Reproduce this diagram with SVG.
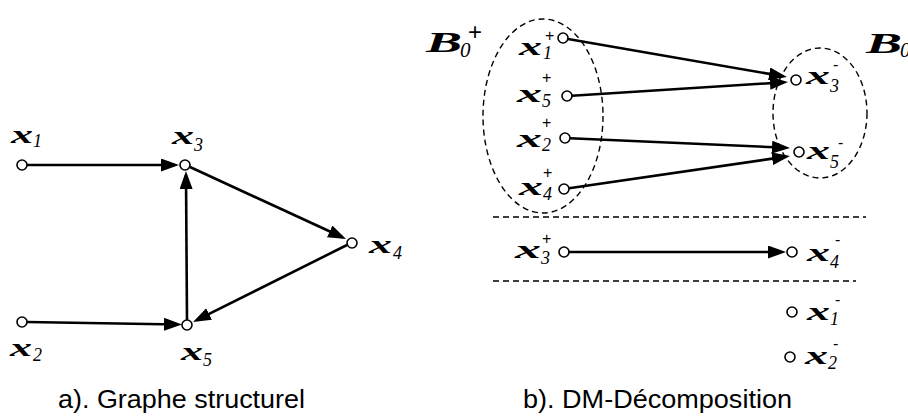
<svg xmlns="http://www.w3.org/2000/svg" width="908" height="417" viewBox="0 0 908 417">
<style>
.n{fill:#fff;stroke:#000;stroke-width:1.6}
.e{stroke:#000;stroke-width:2.6;fill:none;marker-end:url(#ah)}
.d{stroke:#000;stroke-width:1.4;fill:none;stroke-dasharray:6,4}
.m{font-family:"Liberation Serif","DejaVu Serif",serif;font-weight:bold;font-style:italic;font-size:26px;fill:#000}
.s{font-family:"Liberation Serif","DejaVu Serif",serif;font-style:italic;font-size:18px;fill:#000}
.p{font-family:"Liberation Sans",Arial,sans-serif;font-size:16px;fill:#000}
.B{font-family:"Liberation Serif","DejaVu Serif",serif;font-weight:bold;font-style:italic;font-size:30px;fill:#000}
.c{font-family:"Liberation Sans",Arial,sans-serif;font-size:25px;fill:#000}
</style>
<defs>
<marker id="ah" markerUnits="userSpaceOnUse" markerWidth="19" markerHeight="13" viewBox="0 0 19 13" refX="14" refY="6.5" orient="auto">
<path d="M0,0 L18,6.5 L0,13 z" fill="#000"/>
</marker>
</defs>
<rect width="908" height="417" fill="#fff"/>
<g id="connectors">
<line class="e" x1="27" y1="165" x2="175" y2="165"/>
<line class="e" x1="190" y1="167" x2="342.4" y2="237.3"/>
<line class="e" x1="347" y1="245" x2="196.6" y2="320.2"/>
<line class="e" x1="187" y1="320" x2="186" y2="175"/>
<line class="e" x1="27" y1="322" x2="178" y2="324.5"/>
<line class="e" x1="568" y1="39" x2="783" y2="76.3"/>
<line class="e" x1="572" y1="95.7" x2="784" y2="82.3"/>
<line class="e" x1="570" y1="138.2" x2="786" y2="147.8"/>
<line class="e" x1="569" y1="188.3" x2="786" y2="156.6"/>
<line class="e" x1="569" y1="252" x2="782" y2="252"/>
</g>
<g id="groups">
<ellipse class="d" cx="543" cy="116" rx="60" ry="97"/>
<ellipse class="d" cx="820" cy="113" rx="47" ry="65"/>
<line class="d" x1="493" y1="217" x2="866" y2="217"/>
<line class="d" x1="493" y1="281" x2="856" y2="281"/>
<text class="B" x="426" y="52" textLength="36" lengthAdjust="spacingAndGlyphs">B</text><text class="s" x="460" y="57" style="font-size:21px">0</text><text class="p" x="468" y="40" style="font-size:24px">+</text>
<text class="B" x="866" y="53" textLength="36" lengthAdjust="spacingAndGlyphs">B</text><text class="s" x="900" y="57" style="font-size:21px">0</text>
</g>
<g id="n-x1"><circle class="n" cx="22" cy="165" r="5"/><text class="m" x="11" y="143" textLength="22" lengthAdjust="spacingAndGlyphs">x</text><text class="s" x="33" y="147">1</text></g>
<g id="n-x3"><circle class="n" cx="185" cy="165" r="5"/><text class="m" x="172" y="144" textLength="22" lengthAdjust="spacingAndGlyphs">x</text><text class="s" x="194" y="151">3</text></g>
<g id="n-x4"><circle class="n" cx="352" cy="243" r="5"/><text class="m" x="369" y="253" textLength="23" lengthAdjust="spacingAndGlyphs">x</text><text class="s" x="393" y="259">4</text></g>
<g id="n-x2"><circle class="n" cx="22" cy="322" r="5"/><text class="m" x="10" y="356" textLength="22" lengthAdjust="spacingAndGlyphs">x</text><text class="s" x="33" y="361">2</text></g>
<g id="n-x5"><circle class="n" cx="187" cy="325" r="5"/><text class="m" x="181" y="360" textLength="22" lengthAdjust="spacingAndGlyphs">x</text><text class="s" x="203" y="366">5</text></g>
<g id="n-x1p"><circle class="n" cx="563" cy="38" r="5"/><text class="m" x="519" y="55" textLength="23" lengthAdjust="spacingAndGlyphs">x</text><text class="s" x="543" y="59">1</text><text class="p" x="545" y="41">+</text></g>
<g id="n-x5p"><circle class="n" cx="567" cy="96" r="5"/><text class="m" x="517" y="102" textLength="25" lengthAdjust="spacingAndGlyphs">x</text><text class="s" x="542" y="107">5</text><text class="p" x="542" y="83">+</text></g>
<g id="n-x2p"><circle class="n" cx="565" cy="138" r="5"/><text class="m" x="517" y="147" textLength="25" lengthAdjust="spacingAndGlyphs">x</text><text class="s" x="542" y="151">2</text><text class="p" x="542" y="128">+</text></g>
<g id="n-x4p"><circle class="n" cx="564" cy="189" r="5"/><text class="m" x="519" y="195" textLength="24" lengthAdjust="spacingAndGlyphs">x</text><text class="s" x="543" y="200">4</text><text class="p" x="543" y="178">+</text></g>
<g id="n-x3m"><circle class="n" cx="796" cy="80" r="5"/><text class="m" x="806" y="84" textLength="24" lengthAdjust="spacingAndGlyphs">x</text><text class="s" x="830" y="92">3</text><text class="p" x="833" y="70">-</text></g>
<g id="n-x5m"><circle class="n" cx="799" cy="152" r="5"/><text class="m" x="807" y="159" textLength="23" lengthAdjust="spacingAndGlyphs">x</text><text class="s" x="830" y="168">5</text><text class="p" x="838" y="148">-</text></g>
<g id="n-x3p"><circle class="n" cx="564" cy="252" r="5"/><text class="m" x="515" y="258" textLength="26" lengthAdjust="spacingAndGlyphs">x</text><text class="s" x="541" y="264">3</text><text class="p" x="542" y="244">+</text></g>
<g id="n-x4m"><circle class="n" cx="792" cy="252" r="5"/><text class="m" x="807" y="261" textLength="23" lengthAdjust="spacingAndGlyphs">x</text><text class="s" x="830" y="268">4</text><text class="p" x="835" y="245">-</text></g>
<g id="n-x1m"><circle class="n" cx="792" cy="312" r="5"/><text class="m" x="807" y="320" textLength="23" lengthAdjust="spacingAndGlyphs">x</text><text class="s" x="830" y="325">1</text><text class="p" x="835" y="305">-</text></g>
<g id="n-x2m"><circle class="n" cx="790" cy="357" r="5"/><text class="m" x="805" y="364" textLength="23" lengthAdjust="spacingAndGlyphs">x</text><text class="s" x="828" y="369">2</text><text class="p" x="833" y="349">-</text></g>
<text class="c" x="58" y="408" textLength="247" lengthAdjust="spacingAndGlyphs">a). Graphe structurel</text>
<text class="c" x="523" y="408" textLength="269" lengthAdjust="spacingAndGlyphs">b). DM-Décomposition</text>
</svg>
